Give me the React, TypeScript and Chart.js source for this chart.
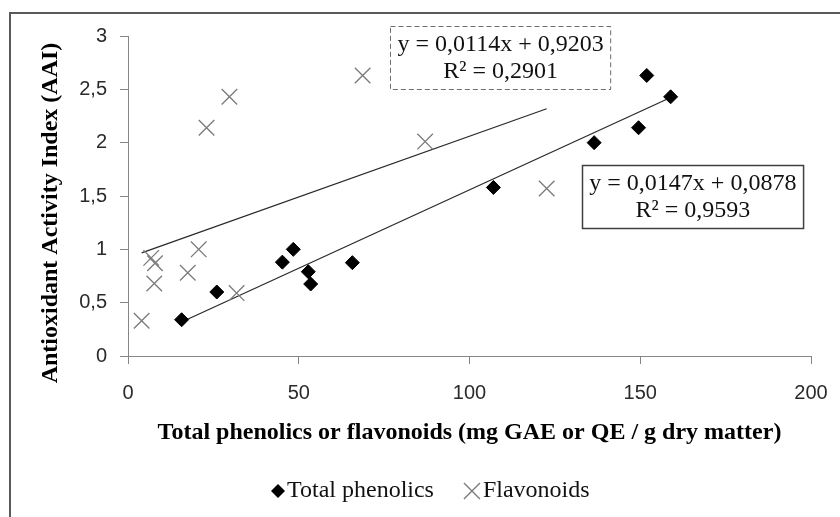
import React, { useEffect, useRef } from "react";
import { Chart, registerables } from "chart.js";

Chart.register(...registerables);

// ---- Data ----
const seriesNames = ["Total phenolics", "Flavonoids"];
const phenolicsX = [15.7, 26.0, 45.2, 48.4, 52.8, 53.5, 65.7, 107.0, 136.5, 149.5, 151.9, 158.9];
const phenolicsY = [0.34, 0.6, 0.88, 1.0, 0.79, 0.675, 0.875, 1.58, 2.0, 2.14, 2.63, 2.43];
const flavonoidsX = [4.0, 6.8, 7.9, 7.7, 17.5, 20.7, 31.8, 23.0, 29.7, 68.7, 87.0, 122.6];
const flavonoidsY = [0.33, 0.92, 0.87, 0.68, 0.78, 1.0, 0.59, 2.14, 2.43, 2.63, 2.01, 1.57];
const phenolicsFit = { slope: 0.0147, intercept: 0.0878, r2: 0.9593 };
const flavonoidsFit = { slope: 0.0114, intercept: 0.9203, r2: 0.2901 };
const xTickValues = [0, 50, 100, 150, 200];
const yTickValues = [0, 0.5, 1, 1.5, 2, 2.5, 3];
const xTitle = "Total phenolics or flavonoids (mg GAE or QE / g dry matter)";
const yTitle = "Antioxidant Activity Index (AAI)";

// ---- Layout / style constants ----
const W = 840;
const H = 517;
const SERIF = "'Liberation Serif', 'Times New Roman', serif";
const SANS = "'Liberation Sans', Arial, sans-serif";
const Y_TITLE_POS = { x: 51, y: 213 };
// equation label anchors (data coordinates: centre x, top y)
const eqLabels = [
  { fit: flavonoidsFit, cx: 109.1, top: 3.097, dashed: true },
  { fit: phenolicsFit, cx: 165.4, top: 1.79, dashed: false },
];

const comma = (v: number, d?: number) =>
  (d === undefined ? String(v) : v.toFixed(d)).replace(".", ",");

const toPoints = (xs: number[], ys: number[]) => xs.map((x, i) => ({ x, y: ys[i] }));
const trend = (xs: number[], fit: { slope: number; intercept: number }) => {
  const lo = Math.min(...xs);
  const hi = Math.max(...xs);
  return [
    { x: lo, y: fit.slope * lo + fit.intercept },
    { x: hi, y: fit.slope * hi + fit.intercept },
  ];
};

const decorPlugin = {
  id: "decor",
  beforeDraw(chart: any) {
    const ctx = chart.ctx;
    ctx.save();
    ctx.fillStyle = "#ffffff";
    ctx.fillRect(0, 0, chart.width, chart.height);
    ctx.restore();
  },
  afterDatasetsDraw(chart: any) {
    const ctx = chart.ctx;
    const xs = chart.scales.x;
    const ys = chart.scales.y;
    ctx.save();
    ctx.font = `24px ${SERIF}`;
    for (const lab of eqLabels) {
      const l1 = `y = ${comma(lab.fit.slope, 4)}x + ${comma(lab.fit.intercept, 4)}`;
      const l2 = `R² = ${comma(lab.fit.r2, 4)}`;
      const w = Math.max(ctx.measureText(l1).width, ctx.measureText(l2).width) + 14;
      const h = 63;
      const cx = xs.getPixelForValue(lab.cx);
      const top = ys.getPixelForValue(lab.top);
      const left = Math.round(cx - w / 2) + 0.5;
      const t = Math.round(top) + 0.5;
      ctx.fillStyle = "#ffffff";
      ctx.fillRect(left, t, w, h);
      ctx.lineWidth = lab.dashed ? 1 : 1.5;
      ctx.strokeStyle = lab.dashed ? "#6e6e6e" : "#404040";
      ctx.setLineDash(lab.dashed ? [5, 3] : []);
      ctx.strokeRect(left, t, w, h);
      ctx.setLineDash([]);
      ctx.fillStyle = "#111111";
      ctx.textAlign = "center";
      ctx.textBaseline = "middle";
      ctx.fillText(l1, cx, t + 18);
      ctx.fillText(l2, cx, t + 45);
    }
    ctx.restore();
  },
  afterDraw(chart: any) {
    const ctx = chart.ctx;
    ctx.save();
    // outer frame
    ctx.strokeStyle = "#5a5a5a";
    ctx.lineWidth = 2;
    ctx.strokeRect(10, 13, W + 20, H + 20);
    // y-axis title
    ctx.save();
    ctx.translate(Y_TITLE_POS.x, Y_TITLE_POS.y);
    ctx.rotate(-Math.PI / 2);
    ctx.font = `bold 24px ${SERIF}`;
    ctx.fillStyle = "#000000";
    ctx.textAlign = "center";
    ctx.textBaseline = "middle";
    ctx.fillText(yTitle, 0, 0);
    ctx.restore();
    // legend
    const y = 491;
    ctx.font = `24px ${SERIF}`;
    ctx.textBaseline = "middle";
    ctx.textAlign = "left";
    let x = 271;
    ctx.fillStyle = "#000000";
    ctx.beginPath();
    ctx.moveTo(x, y);
    ctx.lineTo(x + 7, y - 7);
    ctx.lineTo(x + 14, y);
    ctx.lineTo(x + 7, y + 7);
    ctx.closePath();
    ctx.fill();
    ctx.fillStyle = "#111111";
    ctx.fillText(seriesNames[0], x + 16, y);
    x += 16 + ctx.measureText(seriesNames[0]).width + 30;
    ctx.strokeStyle = "#7a7a7a";
    ctx.lineWidth = 1.3;
    ctx.beginPath();
    ctx.moveTo(x, y - 8);
    ctx.lineTo(x + 16, y + 8);
    ctx.moveTo(x + 16, y - 8);
    ctx.lineTo(x, y + 8);
    ctx.stroke();
    ctx.fillText(seriesNames[1], x + 19, y);
    ctx.restore();
  },
};

export default function App() {
  const ref = useRef<HTMLCanvasElement | null>(null);
  useEffect(() => {
    if (!ref.current) return;
    const axisColor = "#868686";
    const chart = new Chart(ref.current, {
      type: "scatter",
      data: {
        datasets: [
          {
            label: seriesNames[0],
            data: toPoints(phenolicsX, phenolicsY),
            pointStyle: "rectRot",
            pointRadius: 7,
            backgroundColor: "#000000",
            borderColor: "#000000",
            borderWidth: 1,
          },
          {
            label: seriesNames[1],
            data: toPoints(flavonoidsX, flavonoidsY),
            pointStyle: "crossRot",
            pointRadius: 11,
            backgroundColor: "#7a7a7a",
            borderColor: "#7a7a7a",
            borderWidth: 1.3,
          },
          {
            label: "Linear (Total phenolics)",
            data: trend(phenolicsX, phenolicsFit),
            showLine: true,
            pointRadius: 0,
            borderColor: "#2a2a2a",
            borderWidth: 1.3,
          },
          {
            label: "Linear (Flavonoids)",
            data: trend(flavonoidsX, flavonoidsFit),
            showLine: true,
            pointRadius: 0,
            borderColor: "#2a2a2a",
            borderWidth: 1.3,
          },
        ],
      },
      options: {
        animation: false,
        responsive: false,
        events: [],
        layout: { padding: { left: 0, right: 29, top: 36, bottom: 0 } },
        plugins: {
          legend: { display: false },
          tooltip: { enabled: false },
        },
        scales: {
          x: {
            type: "linear",
            min: 0,
            max: 200,
            afterBuildTicks: (s: any) => {
              s.ticks = xTickValues.map((v) => ({ value: v }));
            },
            ticks: {
              color: "#2a2a2a",
              font: { family: SANS, size: 20 },
              padding: 17,
              callback: (v: any) => comma(Number(v)),
            },
            grid: { drawOnChartArea: false, drawTicks: true, tickLength: 8, color: axisColor },
            border: { display: true, color: axisColor, width: 1 },
            title: {
              display: true,
              text: xTitle,
              color: "#000000",
              font: { family: SERIF, size: 24, weight: "bold" },
              padding: { top: 0, bottom: 70 },
            },
            afterFit: (s: any) => {
              s.height = 161;
              s.paddingLeft = 0;
              s.paddingRight = 0;
            },
          },
          y: {
            type: "linear",
            min: 0,
            max: 3,
            afterBuildTicks: (s: any) => {
              s.ticks = yTickValues.map((v) => ({ value: v }));
            },
            ticks: {
              color: "#2a2a2a",
              font: { family: SANS, size: 20 },
              padding: 13,
              callback: (v: any) => comma(Number(v)),
            },
            grid: { drawOnChartArea: false, drawTicks: true, tickLength: 8, color: axisColor },
            border: { display: true, color: axisColor, width: 1 },
            title: { display: false, text: yTitle },
            afterFit: (s: any) => {
              s.width = 128;
              s.paddingTop = 0;
              s.paddingBottom = 0;
            },
          },
        },
      },
      plugins: [decorPlugin],
    } as any);
    return () => chart.destroy();
  }, []);
  return (
    <div style={{ position: "absolute", left: 0, top: 0, width: W, height: H, background: "#fff" }}>
      <canvas ref={ref} width={W} height={H} style={{ display: "block" }} />
    </div>
  );
}
